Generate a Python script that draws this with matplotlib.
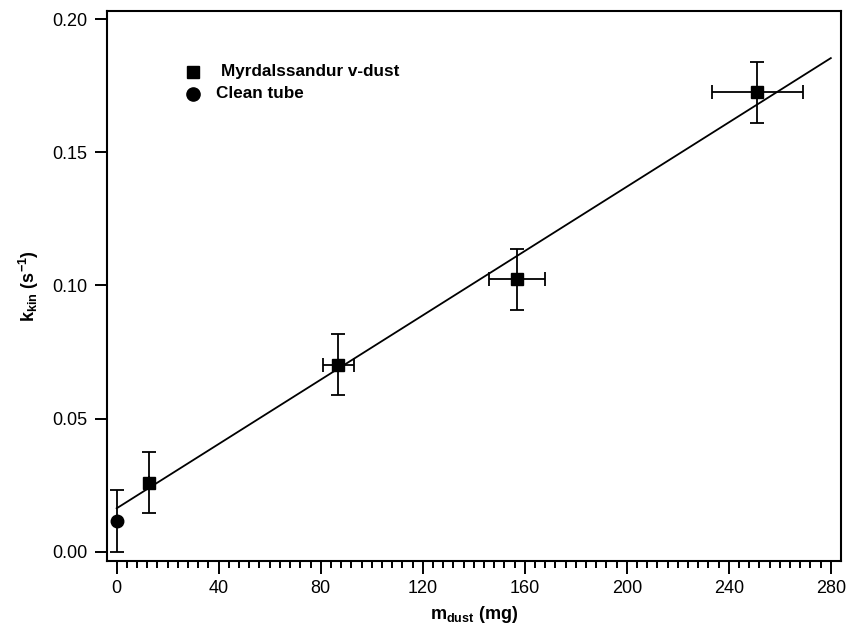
import matplotlib
matplotlib.use("Agg")
import matplotlib.pyplot as plt
import numpy as np

plt.rcParams['font.family'] = ['Liberation Sans', 'DejaVu Sans']
plt.rcParams['mathtext.fontset'] = 'custom'
plt.rcParams['mathtext.rm'] = 'Liberation Sans:bold'
plt.rcParams['mathtext.bf'] = 'Liberation Sans:bold'
plt.rcParams['mathtext.it'] = 'Liberation Sans:bold'

# dust samples
dust_mass = [12.8, 86.9, 156.9, 251.2]
dust_mass_err = [0.0, 6.1, 11.1, 17.8]
dust_k = [0.0259, 0.0703, 0.1023, 0.1726]
dust_k_err = [0.0115, 0.0114, 0.0115, 0.0115]

# clean tube
clean_mass = [0.0]
clean_k = [0.0115]
clean_k_err = [0.0115]

# linear fit
fit_x = [0.0, 280.0]
fit_intercept = 0.0163
fit_slope = 0.000604

x_ticks = [0, 40, 80, 120, 160, 200, 240, 280]
y_ticks = [0.00, 0.05, 0.10, 0.15, 0.20]


def main():
	fig = plt.figure(figsize=(8.49, 6.33), dpi=100)
	ax = fig.add_axes([0.126, 0.1137, 0.8646, 0.8693])

	fx = np.array(fit_x)
	ax.plot(fx, fit_intercept + fit_slope * fx, color='black', lw=1.3, zorder=2)

	ax.errorbar(dust_mass, dust_k, xerr=dust_mass_err, yerr=dust_k_err,
	            fmt='s', color='black', ms=8.5, elinewidth=1.3, capsize=5,
	            capthick=1.3, zorder=3)
	ax.errorbar(clean_mass, clean_k, yerr=clean_k_err,
	            fmt='o', color='black', ms=9, elinewidth=1.3, capsize=5,
	            capthick=1.3, zorder=3)

	# legend drawn by hand, like the original
	ax.plot([0.117], [0.889], 's', color='black', ms=9, transform=ax.transAxes,
	        clip_on=False)
	ax.plot([0.117], [0.849], 'o', color='black', ms=9.5, transform=ax.transAxes,
	        clip_on=False)
	ax.text(0.156, 0.889, 'Myrdalssandur v-dust', transform=ax.transAxes,
	        fontsize=12.3, fontweight='bold', va='center', ha='left')
	ax.text(0.148, 0.849, 'Clean tube', transform=ax.transAxes,
	        fontsize=12.3, fontweight='bold', va='center', ha='left')

	ax.set_xlim(-3.8, 284)
	ax.set_ylim(-0.0035, 0.2032)
	ax.set_xticks(x_ticks)
	ax.set_xticks(np.arange(0, 281, 4), minor=True)
	ax.set_yticks(y_ticks)
	ax.set_yticklabels(['%.2f' % v for v in y_ticks])

	ax.tick_params(axis='both', which='major', direction='out', length=9,
	               width=1.4, labelsize=13, pad=5)
	ax.tick_params(axis='x', which='minor', direction='out', length=5, width=1.4)
	ax.tick_params(top=False, right=False)
	for s in ax.spines.values():
		s.set_linewidth(1.5)

	ax.set_xlabel(r'm$_{\mathrm{dust}}$ (mg)', fontsize=13, fontweight='bold',
	              labelpad=5)
	ax.set_ylabel(r'k$_{\mathrm{kin}}$ (s$^{\mathrm{-1}}$)', fontsize=13,
	              fontweight='bold', labelpad=8)

	fig.savefig('out.png', dpi=100)


if __name__ == '__main__':
	main()
